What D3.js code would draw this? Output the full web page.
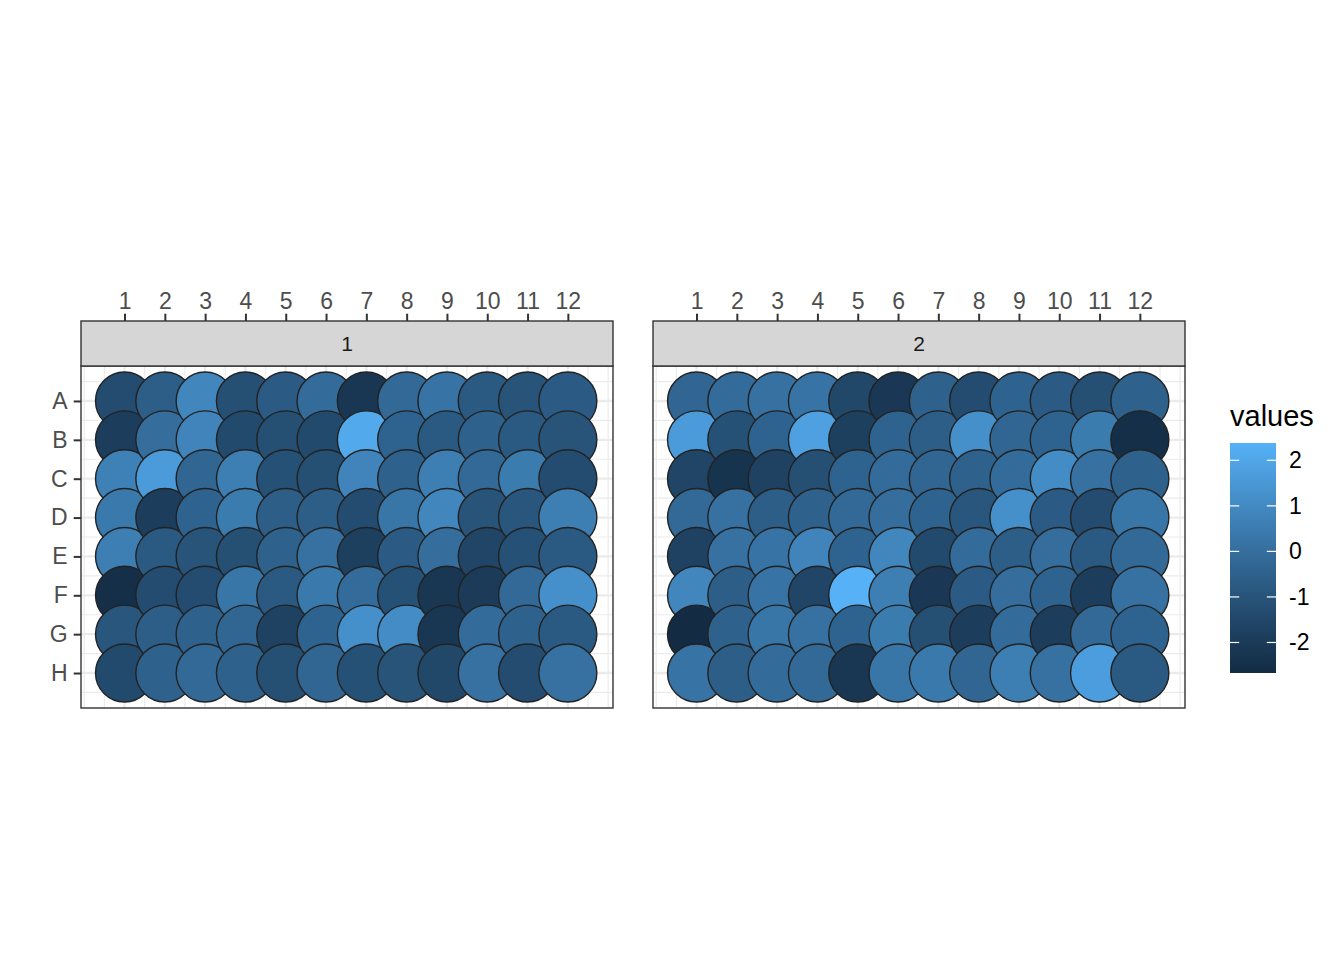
<!DOCTYPE html>
<html>
<head>
<meta charset="utf-8">
<script src="https://cdn.jsdelivr.net/npm/d3@7"></script>
<style>
  html, body { margin: 0; padding: 0; background: #fff; }
  svg { display: block; font-family: "Liberation Sans", Arial, sans-serif; }
</style>
</head>
<body>
<svg id="chart" width="1344" height="960"></svg>
<script>
// ---- data ----
const rowLabels = ["A", "B", "C", "D", "E", "F", "G", "H"];
const colLabels = [1, 2, 3, 4, 5, 6, 7, 8, 9, 10, 11, 12];
const plateNames = ["1", "2"];
const legendTicks = [-2, -1, 0, 1, 2];
const legendTitle = "values";

const plate1 = [
  [-1.3, -0.6, 0.9, -1.2, -0.7, -0.1, -2.2, -0.2, 0.2, -0.8, -1.0, -0.7],
  [-1.9, 0.0, 0.8, -1.4, -1.2, -1.4, 2.1, -0.4, -0.8, -0.5, -0.8, -1.0],
  [0.7, 1.6, -0.3, 0.6, -1.1, -1.2, 0.8, -0.5, 0.6, -0.2, 0.5, -1.3],
  [0.4, -1.9, -0.4, 0.5, -0.6, -0.6, -1.3, 0.3, 0.9, -1.0, -0.9, 0.6],
  [0.6, -0.8, -1.0, -1.2, -0.5, 0.1, -1.8, -0.7, 0.0, -1.6, -1.1, -0.8],
  [-2.5, -1.3, -1.3, 0.3, -0.8, 0.4, -0.1, -1.1, -2.2, -2.0, -0.2, 1.2],
  [-0.9, -0.6, -0.5, -0.3, -1.7, -0.4, 1.2, 1.1, -2.2, -0.1, -0.5, -0.8],
  [-1.4, -0.5, -0.2, -0.5, -1.2, -0.3, -1.1, -1.0, -1.5, 0.1, -1.3, 0.1]
];
const plate2 = [
  [-0.3, -0.1, 0.1, 0.2, -1.5, -2.1, -0.5, -1.3, -0.4, -0.7, -1.2, -0.5],
  [1.6, -1.1, -0.4, 1.8, -1.8, -0.4, -0.6, 1.2, -0.3, -0.4, 0.5, -2.5],
  [-1.6, -2.3, -1.7, -1.2, -0.4, -0.1, -0.3, -0.5, -0.1, 1.1, 0.1, -0.5],
  [-0.2, 0.1, -0.6, -0.5, -0.2, 0.0, -0.4, -0.9, 1.2, -0.7, -1.3, 0.3],
  [-1.7, 0.1, 0.2, 0.8, -0.4, 0.9, -1.4, -0.1, -0.6, 0.0, -0.8, -0.2],
  [0.9, -0.6, 0.2, -1.6, 2.38, 0.6, -2.1, -0.7, 0.0, -0.4, -1.9, 0.1],
  [-2.67, -0.5, 0.3, 0.1, -0.4, 0.5, -1.2, -1.9, -0.1, -1.9, -0.2, -0.4],
  [0.2, -0.6, -0.1, -0.2, -2.2, 0.3, 0.4, -0.3, 0.6, 0.1, 1.7, -0.8]
];
const plates = [plate1, plate2];

// ---- layout ----
const svg = d3.select("#chart");
const panelTop = 366, panelBottom = 708, stripTop = 321;
const panelLefts = [81, 653], panelWidth = 532;
const gridCol = "#EBEBEB", darkCol = "#333333", axisTextCol = "#4D4D4D";

const allVals = plates.flatMap(p => p.flat());
const color = d3.scaleLinear()
  .domain(d3.extent(allVals))
  .range(["#132B43", "#56B1F7"])
  .interpolate(d3.interpolateLab);

const y = d3.scaleLinear().domain([0.1, 8.9]).range([panelTop, panelBottom]);

plates.forEach((plate, pi) => {
  const x0 = panelLefts[pi];
  const x = d3.scaleLinear().domain([-0.08, 13.12]).range([x0, x0 + panelWidth]);
  const g = svg.append("g");

  // panel background
  g.append("rect").attr("x", x0).attr("y", panelTop)
    .attr("width", panelWidth).attr("height", panelBottom - panelTop).attr("fill", "#fff");

  // minor grid
  const xMinor = [0, 13].concat(d3.range(0, 13).map(k => k + 0.5));
  const yMinor = d3.range(0, 9).map(k => k + 0.5);
  g.selectAll(".xminor").data(xMinor).join("line")
    .attr("x1", d => x(d)).attr("x2", d => x(d))
    .attr("y1", panelTop).attr("y2", panelBottom)
    .attr("stroke", gridCol).attr("stroke-width", 1.2);
  g.selectAll(".yminor").data(yMinor).join("line")
    .attr("y1", d => y(d)).attr("y2", d => y(d))
    .attr("x1", x0).attr("x2", x0 + panelWidth)
    .attr("stroke", gridCol).attr("stroke-width", 1.2);
  // major grid
  g.selectAll(".xmajor").data(colLabels).join("line")
    .attr("x1", d => x(d)).attr("x2", d => x(d))
    .attr("y1", panelTop).attr("y2", panelBottom)
    .attr("stroke", gridCol).attr("stroke-width", 2.3);
  g.selectAll(".ymajor").data(rowLabels).join("line")
    .attr("y1", (d, i) => y(i + 1)).attr("y2", (d, i) => y(i + 1))
    .attr("x1", x0).attr("x2", x0 + panelWidth)
    .attr("stroke", gridCol).attr("stroke-width", 2.3);

  // wells, drawn column by column
  const wells = [];
  colLabels.forEach((c, ci) => {
    rowLabels.forEach((r, ri) => {
      wells.push({ row: ri + 1, col: c, value: plate[ri][ci] });
    });
  });
  g.selectAll("circle.well").data(wells).join("circle")
    .attr("class", "well")
    .attr("cx", d => x(d.col)).attr("cy", d => y(d.row))
    .attr("r", 29)
    .attr("fill", d => color(d.value))
    .attr("stroke", "#222222").attr("stroke-width", 1.4);

  // panel border
  g.append("rect").attr("x", x0).attr("y", panelTop)
    .attr("width", panelWidth).attr("height", panelBottom - panelTop)
    .attr("fill", "none").attr("stroke", darkCol).attr("stroke-width", 1.4);

  // strip
  g.append("rect").attr("x", x0).attr("y", stripTop)
    .attr("width", panelWidth).attr("height", panelTop - stripTop)
    .attr("fill", "#D6D6D6").attr("stroke", darkCol).attr("stroke-width", 1.4);
  g.append("text").attr("x", x0 + panelWidth / 2).attr("y", (stripTop + panelTop) / 2)
    .attr("text-anchor", "middle").attr("dominant-baseline", "central")
    .attr("font-size", 21).attr("fill", "#1A1A1A").text(plateNames[pi]);

  // top x axis
  const xAxis = d3.axisTop(x).tickValues(colLabels).tickSize(7.3).tickPadding(5).tickFormat(d3.format("d"));
  const ax = g.append("g").attr("transform", `translate(0,${stripTop})`).call(xAxis);
  ax.select(".domain").remove();
  ax.selectAll(".tick line").attr("stroke", darkCol).attr("stroke-width", 2);
  ax.selectAll(".tick text").attr("font-size", 23).attr("fill", axisTextCol)
    .attr("font-family", "Liberation Sans, Arial, sans-serif");

  // left y axis on first panel only
  if (pi === 0) {
    const yBand = d3.scaleOrdinal().domain(rowLabels).range(rowLabels.map((r, i) => y(i + 1)));
    const yAxis = d3.axisLeft(yBand).tickSize(7.3).tickPadding(6);
    const ay = g.append("g").attr("transform", `translate(${x0},0)`).call(yAxis);
    ay.select(".domain").remove();
    ay.selectAll(".tick line").attr("stroke", darkCol).attr("stroke-width", 2);
    ay.selectAll(".tick text").attr("font-size", 23).attr("fill", axisTextCol)
      .attr("font-family", "Liberation Sans, Arial, sans-serif");
  }
});

// ---- legend ----
const lg = svg.append("g");
const barX = 1230, barW = 46, barTop = 443, barBottom = 673;
const ly = d3.scaleLinear().domain(color.domain()).range([barBottom, barTop]);
const defs = svg.append("defs");
const grad = defs.append("linearGradient").attr("id", "lgGrad")
  .attr("x1", 0).attr("y1", 1).attr("x2", 0).attr("y2", 0);
d3.range(0, 1.0001, 0.05).forEach(t => {
  const v = color.domain()[0] + t * (color.domain()[1] - color.domain()[0]);
  grad.append("stop").attr("offset", t).attr("stop-color", color(v));
});
lg.append("text").attr("x", barX).attr("y", 426).attr("font-size", 29)
  .attr("fill", "#000").text(legendTitle);
lg.append("rect").attr("x", barX).attr("y", barTop).attr("width", barW)
  .attr("height", barBottom - barTop).attr("fill", "url(#lgGrad)");
legendTicks.forEach(t => {
  const yy = ly(t);
  lg.append("line").attr("x1", barX).attr("x2", barX + 9.2).attr("y1", yy).attr("y2", yy)
    .attr("stroke", "#fff").attr("stroke-width", 1.2);
  lg.append("line").attr("x1", barX + barW - 9.2).attr("x2", barX + barW).attr("y1", yy).attr("y2", yy)
    .attr("stroke", "#fff").attr("stroke-width", 1.2);
  lg.append("text").attr("x", barX + barW + 13).attr("y", yy)
    .attr("dominant-baseline", "central").attr("font-size", 23).attr("fill", "#000")
    .text(String(t));
});
</script>
</body>
</html>
